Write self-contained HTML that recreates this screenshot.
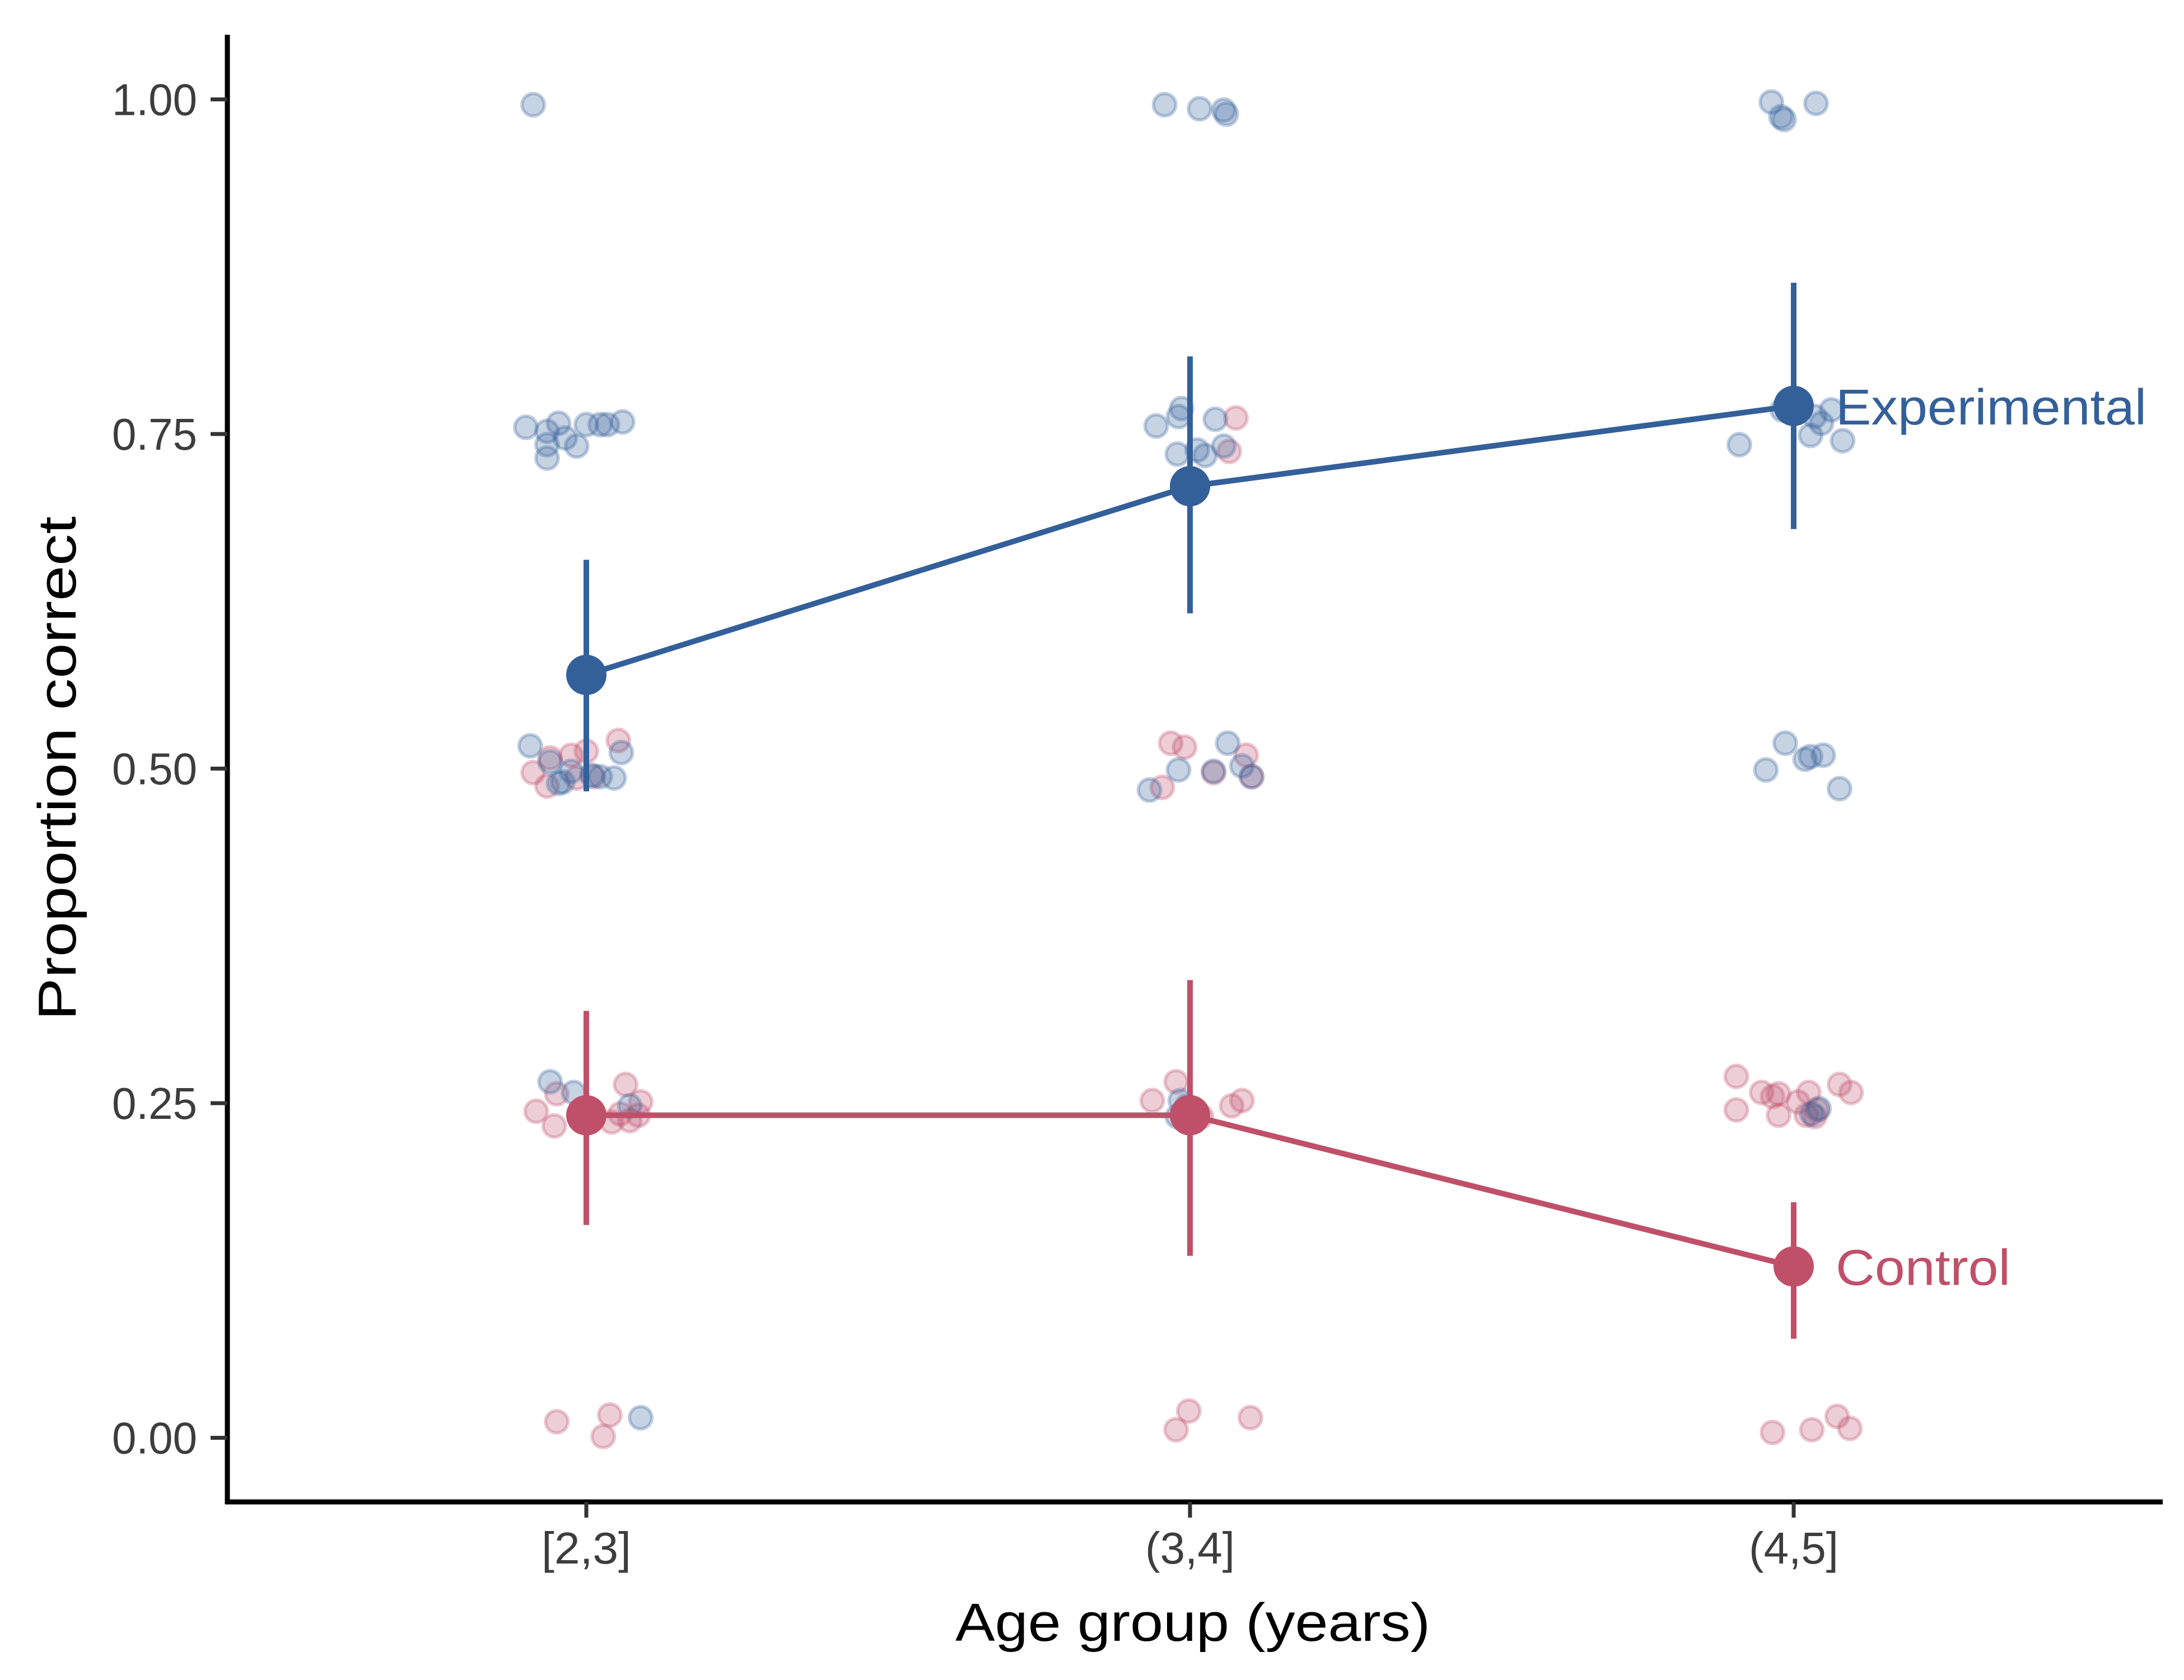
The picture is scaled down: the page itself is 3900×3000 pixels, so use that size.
<!DOCTYPE html>
<html><head><meta charset="utf-8"><style>
html,body{margin:0;padding:0;background:#fff;}
svg{display:block;}
text{font-family:"Liberation Sans",sans-serif;}
</style></head><body>
<svg id="chart" width="3900" height="3000" viewBox="0 0 3900 3000" xmlns="http://www.w3.org/2000/svg">
<rect width="3900" height="3000" fill="#fff"/>
<g id="points"></g>
<g id="series"></g>
<g id="axes"></g>
</svg>
<script>
const categories = ["[2,3]", "(3,4]", "(4,5]"];
const yTicks = [0, 0.25, 0.5, 0.75, 1.0];
const yTickLabels = ["0.00", "0.25", "0.50", "0.75", "1.00"];
const expMean = [0.570, 0.711, 0.771];
const expLow = [0.483, 0.616, 0.679];
const expHigh = [0.656, 0.808, 0.863];
const ctlMean = [0.241, 0.241, 0.128];
const ctlLow = [0.159, 0.136, 0.074];
const ctlHigh = [0.319, 0.342, 0.176];
// raw points: category index, jitter (category units), value
const expCat = [0, 0,0,0,0,0,0,0,0,0,0,0, 0,0,0,0,0,0,0,0,0, 0,0,0, 0,
  1,1,1,1, 1,1,1,1,1,1,1,1, 1,1,1,1,1,1, 1,1,1,1,
  2,2,2,2, 2,2,2,2,2,2,2, 2,2,2,2,2,2, 2,2];
const expJit = [-0.088, -0.10,-0.065,-0.046,-0.035,0,0.023,0.035,0.06,-0.016,-0.065,-0.065, -0.093,-0.06,-0.039,-0.025,0.009,0.023,0.046,0.058,-0.046, -0.06,-0.021,0.072, 0.09,
  -0.042,0.016,0.056,0.06, -0.056,-0.019,-0.014,-0.021,0.012,0.025,0.042,0.056, -0.067,-0.019,0.0625,0.039,0.086,0.102, -0.016,-0.021,0.007,-0.005,
  -0.037,-0.021,-0.016,0.037, -0.09,0.028,0.046,0.0625,0.081,0.035,-0.019, -0.046,-0.014,0.019,0.028,0.049,0.076, 0.03,0.042];
const expVal = [0.996, 0.755,0.752,0.758,0.747,0.757,0.757,0.757,0.759,0.741,0.732,0.742, 0.517,0.505,0.49,0.498,0.495,0.494,0.493,0.512,0.489, 0.266,0.258,0.248, 0.015,
  0.996,0.993,0.992,0.989, 0.756,0.763,0.769,0.735,0.738,0.734,0.761,0.741, 0.484,0.499,0.519,0.498,0.502,0.494, 0.252,0.24,0.245,0.248,
  0.998,0.987,0.985,0.997, 0.742,0.749,0.758,0.768,0.745,0.763,0.768, 0.499,0.519,0.507,0.509,0.51,0.485, 0.242,0.246];
const ctlCat = [0,0,0,0,0,0,0,0, 0,0,0,0,0,0,0,0,0, 0,0,0,
  1,1, 1,1,1,1,1,1, 1,1,1,1,1, 1,1,1,
  2,2,2,2,2,2,2,2,2,2,2,2,2, 2,2,2,2];
const ctlJit = [-0.088,-0.06,-0.025,0,0.053,-0.065,-0.016,0.012, -0.083,-0.049,-0.053,0.065,0.09,0.042,0.072,0.056,0.086, -0.049,0.028,0.039,
  0.076,0.065, -0.032,-0.009,-0.046,0.039,0.093,0.102, -0.0625,-0.023,0.069,0.086,0.019, -0.023,-0.002,0.1,
  -0.095,-0.095,-0.053,-0.035,-0.025,-0.025,0.007,0.025,0.021,0.039,0.076,0.095,0.035, -0.035,0.03,0.072,0.093];
const ctlVal = [0.497,0.508,0.51,0.513,0.521,0.487,0.493,0.494, 0.244,0.257,0.233,0.264,0.251,0.236,0.237,0.242,0.241, 0.012,0.001,0.017,
  0.762,0.737, 0.519,0.516,0.486,0.497,0.51,0.494, 0.252,0.266,0.248,0.252,0.24, 0.006,0.02,0.015,
  0.27,0.245,0.258,0.255,0.241,0.257,0.251,0.258,0.241,0.245,0.264,0.258,0.24, 0.004,0.006,0.016,0.007];

const BLUE = "#34609a", RED = "#c0506a";
const NS = "http://www.w3.org/2000/svg";
function xs(v){ return 2125 + (v - 1) * 1078; }
function ys(v){ return 2567.5 - v * 2390; }
function mk(tag, attrs, parent){ const e = document.createElementNS(NS, tag); for (const k in attrs) e.setAttribute(k, attrs[k]); parent.appendChild(e); return e; }

const gp = document.getElementById('points');
function drawPts(cat, jit, val, col, nm){
  for (let i = 0; i < val.length; i++){
    const c = mk('circle', {cx: xs(cat[i] + jit[i]), cy: ys(val[i]), r: 20, fill: col, 'fill-opacity': 0.28, stroke: col, 'stroke-opacity': 0.3, 'stroke-width': 6}, gp);
    
    
  }
}
drawPts(ctlCat, ctlJit, ctlVal, RED, 'control-point');
drawPts(expCat, expJit, expVal, BLUE, 'experimental-point');

const gs = document.getElementById('series');
function drawSeries(mean, lo, hi, col, nm){
  const pts = mean.map((m, i) => xs(i) + ',' + ys(m)).join(' ');
  const pl = mk('polyline', {points: pts, fill: 'none', stroke: col, 'stroke-width': 10}, gs);
  
  
  for (let i = 0; i < mean.length; i++){
    const l = mk('line', {x1: xs(i), x2: xs(i), y1: ys(lo[i]), y2: ys(hi[i]), stroke: col, 'stroke-width': 10}, gs);
    
    
    const c = mk('circle', {cx: xs(i), cy: ys(mean[i]), r: 36, fill: col}, gs);
    
    
  }
}
drawSeries(ctlMean, ctlLow, ctlHigh, RED, 'control');
drawSeries(expMean, expLow, expHigh, BLUE, 'experimental');

const le = mk('text', {x: xs(2) + 75, y: ys(expMean[2]) + 33, fill: BLUE, 'font-size': 90, textLength: 555, lengthAdjust: 'spacingAndGlyphs'}, gs);
le.textContent = 'Experimental';


const lc = mk('text', {x: xs(2) + 75, y: ys(ctlMean[2]) + 33, fill: RED, 'font-size': 90, textLength: 312, lengthAdjust: 'spacingAndGlyphs'}, gs);
lc.textContent = 'Control';



const ga = document.getElementById('axes');
const AX = 406, AY = 2682;
const ya = mk('line', {x1: AX, x2: AX, y1: 62, y2: AY + 4, stroke: '#000', 'stroke-width': 9}, ga);


const xa = mk('line', {x1: AX - 4, x2: 3862, y1: AY, y2: AY, stroke: '#000', 'stroke-width': 9}, ga);


for (let i = 0; i < yTicks.length; i++){
  const y = ys(yTicks[i]);
  const t = mk('line', {x1: AX - 30, x2: AX, y1: y, y2: y, stroke: '#333', 'stroke-width': 7}, ga);
  
  
  const tx = mk('text', {x: 352, y: y + 28, 'text-anchor': 'end', fill: '#3d3d3d', 'font-size': 80, textLength: 152, lengthAdjust: 'spacingAndGlyphs'}, ga);
  tx.textContent = yTickLabels[i];
  
  
}
for (let i = 0; i < categories.length; i++){
  const x = xs(i);
  const t = mk('line', {x1: x, x2: x, y1: AY, y2: AY + 28, stroke: '#333', 'stroke-width': 7}, ga);
  
  
  const tx = mk('text', {x: x, y: 2792, 'text-anchor': 'middle', fill: '#3d3d3d', 'font-size': 80, textLength: 160, lengthAdjust: 'spacingAndGlyphs'}, ga);
  tx.textContent = categories[i];
  
  
}
const xt = mk('text', {x: 2130, y: 2930, 'text-anchor': 'middle', fill: '#000', 'font-size': 96, textLength: 848, lengthAdjust: 'spacingAndGlyphs'}, ga);
xt.textContent = 'Age group (years)';


const yt = mk('text', {x: 0, y: 0, 'text-anchor': 'middle', fill: '#000', 'font-size': 96, textLength: 900, lengthAdjust: 'spacingAndGlyphs', transform: 'translate(135,1372) rotate(-90)'}, ga);
yt.textContent = 'Proportion correct';


</script>
</body></html>
